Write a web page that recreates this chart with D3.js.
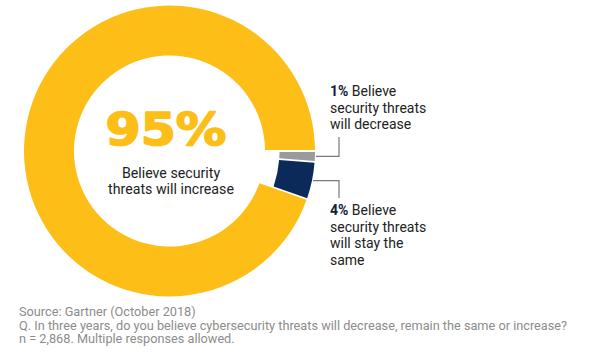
<!DOCTYPE html>
<html><head><meta charset="utf-8">
<script src="https://cdn.jsdelivr.net/npm/d3@7"></script>
<style>body{margin:0;background:#fff;} svg{display:block;}</style>
</head><body>
<script>
const categories = ["decrease", "stay the same", "increase"];
const values = [1, 4, 95];
const colors = ["#9b9b9b", "#0b2a5a", "#fdbe17"];
const bigLabel = "95%";
const centerLines = ["Believe security", "threats will increase"];
const sideLabels = [
  {pct: "1%", lines: [" Believe", "security threats", "will decrease"]},
  {pct: "4%", lines: [" Believe", "security threats", "will stay the", "same"]}
];
const footer = [
  "Source: Gartner (October 2018)",
  "Q. In three years, do you believe cybersecurity threats will decrease, remain the same or increase?",
  "n = 2,868. Multiple responses allowed."
];

const W = 596, H = 362;
const svg = d3.select("body").append("svg").attr("width", W).attr("height", H);
const cx = 169.5, cy = 151;
const g = svg.append("g").attr("transform", `translate(${cx},${cy})`);

const pie = d3.pie().sort(null).value(d => d).startAngle(Math.PI/2).endAngle(Math.PI/2 + 2*Math.PI).padAngle(0.012);
const arcs = pie(values);
const outerR = 145.5;
const innerFor = i => i === 2 ? 95.5 : 110;
arcs.forEach((a, i) => {
  const arc = d3.arc().innerRadius(innerFor(i)).outerRadius(outerR).padRadius(150);
  g.append("path").attr("d", arc(a)).attr("fill", colors[i]);
});

// leader lines
const lineX = 339;
const ends = [137, 198];
[0, 1].forEach(i => {
  const a = arcs[i];
  const mid = (a.startAngle + a.endAngle) / 2;
  const y = cy - outerR * Math.cos(mid);
  const x = cx + outerR * Math.sin(mid);
  svg.append("path")
    .attr("d", `M${x + 1},${y}H${lineX}V${ends[i]}`)
    .attr("fill", "none").attr("stroke", "#7a7a7a").attr("stroke-width", 1.2);
});

// center labels
svg.append("text").attr("x", 166).attr("y", 145).attr("text-anchor", "middle")
  .attr("font-family", "DejaVu Sans").attr("font-weight", 700).attr("font-size", 45)
  .attr("textLength", 121).attr("lengthAdjust", "spacingAndGlyphs")
  .attr("stroke", colors[2]).attr("stroke-width", 1.6).attr("stroke-linejoin", "round")
  .attr("fill", colors[2]).text(bigLabel);
centerLines.forEach((t, i) => {
  svg.append("text").attr("x", 171).attr("y", 177.5 + i * 16).attr("text-anchor", "middle")
    .attr("font-family", "Roboto").attr("font-size", 14.2).attr("fill", "#222").text(t);
});

// side labels
const sideY = [96, 215];
sideLabels.forEach((s, k) => {
  s.lines.forEach((t, i) => {
    const tx = svg.append("text").attr("x", 330).attr("y", sideY[k] + i * 16.5)
      .attr("font-family", "Roboto").attr("font-size", 14).attr("fill", "#222");
    if (i === 0) {
      tx.append("tspan").attr("font-weight", 700).attr("fill", "#13203a").text(s.pct);
    }
    tx.append("tspan").text(t);
  });
});

// footer
const footY = [316, 329.5, 343];
const footTexts = footer.map((t, i) => svg.append("text").attr("x", 19).attr("y", footY[i])
    .attr("font-family", "Roboto").attr("font-size", 12.5).attr("fill", "#8c8c8c").text(t));
const len = footTexts[1].node().getComputedTextLength();
const fs = 12.5 * 549 / len;
footTexts.forEach(t => t.attr("font-size", fs));
</script>
</body></html>
